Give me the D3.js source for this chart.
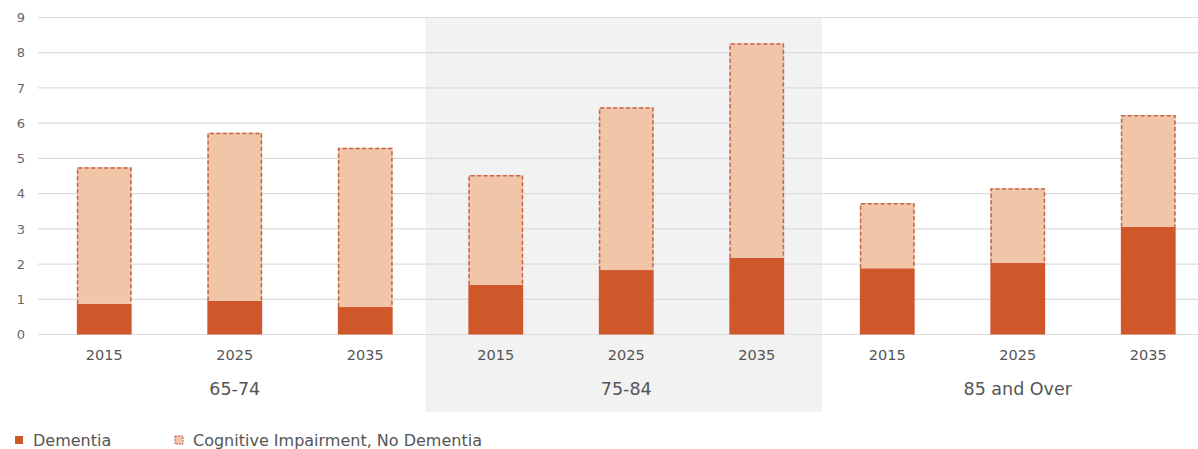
<!DOCTYPE html>
<html><head><meta charset="utf-8">
<script src="https://cdn.jsdelivr.net/npm/d3@7"></script>
<style>body{margin:0;background:#fff;}svg{display:block;font-family:"DejaVu Sans","Liberation Sans",Arial,sans-serif;}</style>
</head><body><svg id="c" width="1198" height="449"></svg>
<script>
const groups = ["65-74", "75-84", "85 and Over"];
const years = ["2015", "2025", "2035"];
const dementia = [0.87, 0.96, 0.78, 1.41, 1.83, 2.18, 1.88, 2.04, 3.06];
const cognitive = [3.88, 4.77, 4.52, 3.12, 4.62, 6.09, 1.85, 2.11, 3.17];
const yTicks = [0,1,2,3,4,5,6,7,8,9];
const legendLabels = ["Dementia", "Cognitive Impairment, No Dementia"];

const colDem = "#cf572a", colCog = "#f0c5a8", colDash = "#c26448";
const svg = d3.select("#c");
const cats = [];
groups.forEach(g => years.forEach(y => cats.push(g + "|" + y)));
const data = cats.map((k, i) => ({key: k, group: k.split("|")[0], year: k.split("|")[1], dem: dementia[i], cog: cognitive[i]}));

const x = d3.scaleBand().domain(cats).range([39, 1213.5]).paddingInner(0.58).paddingOuter(0.29);
const gx = d3.scaleBand().domain(groups).range([39, 1213.5]);
const y = d3.scaleLinear().domain([0, 9]).range([334.5, 17.5]);

// shaded middle group
svg.append("rect").attr("x", gx("75-84") - 5).attr("y", 17).attr("width", gx.bandwidth() + 5).attr("height", 395).attr("fill", "#f2f2f2");

// grid
svg.append("g").selectAll("line").data(yTicks).join("line")
  .attr("x1", 38).attr("x2", 1198).attr("y1", d => y(d)).attr("y2", d => y(d))
  .attr("stroke", "#dcdcdc").attr("stroke-width", 1.2);
svg.append("g").selectAll("text").data(yTicks).join("text")
  .attr("x", 25).attr("y", d => y(d)).attr("dy", "0.36em").attr("text-anchor", "end")
  .attr("font-size", 13).attr("fill", "#666").text(d => d);

// bars
const bars = svg.append("g");
bars.selectAll(".dem").data(data).join("rect")
  .attr("x", d => x(d.key)).attr("width", x.bandwidth())
  .attr("y", d => y(d.dem)).attr("height", d => y(0) - y(d.dem)).attr("fill", colDem);
bars.selectAll(".cog").data(data).join("rect")
  .attr("x", d => x(d.key)).attr("width", x.bandwidth())
  .attr("y", d => y(d.dem + d.cog)).attr("height", d => y(d.dem) - y(d.dem + d.cog)).attr("fill", colCog);
bars.selectAll(".cogb").data(data).join("path")
  .attr("d", d => {
    const p = d3.path();
    const x0 = x(d.key) + 0.75, x1 = x(d.key) + x.bandwidth() - 0.75;
    p.moveTo(x0, y(d.dem)); p.lineTo(x0, y(d.dem + d.cog) + 0.75); p.lineTo(x1, y(d.dem + d.cog) + 0.75); p.lineTo(x1, y(d.dem));
    return p.toString();
  })
  .attr("fill", "none").attr("stroke", colDash).attr("stroke-width", 1.5).attr("stroke-dasharray", "4,2.5");

// x labels
svg.append("g").selectAll("text").data(data).join("text")
  .attr("x", d => x(d.key) + x.bandwidth() / 2).attr("y", 355).attr("dy", "0.36em").attr("text-anchor", "middle")
  .attr("font-size", 14.5).attr("fill", "#555").text(d => d.year);
svg.append("g").selectAll("text").data(groups).join("text")
  .attr("x", d => gx(d) + gx.bandwidth() / 2).attr("y", 389).attr("dy", "0.36em").attr("text-anchor", "middle")
  .attr("font-size", 17.5).attr("fill", "#555").text(d => d);

// legend
const lg = svg.append("g");
const lx = [15, 175];
lg.selectAll("rect").data(legendLabels).join("rect")
  .attr("x", (d, i) => lx[i]).attr("y", 436).attr("width", 8).attr("height", 8)
  .attr("fill", (d, i) => i === 0 ? colDem : colCog)
  .attr("stroke", (d, i) => i === 0 ? "none" : colDash).attr("stroke-width", 1).attr("stroke-dasharray", "2,1");
lg.selectAll("text").data(legendLabels).join("text")
  .attr("x", (d, i) => lx[i] + 18).attr("y", 440).attr("dy", "0.36em")
  .attr("font-size", 16).attr("fill", "#555").text(d => d);
</script></body></html>
